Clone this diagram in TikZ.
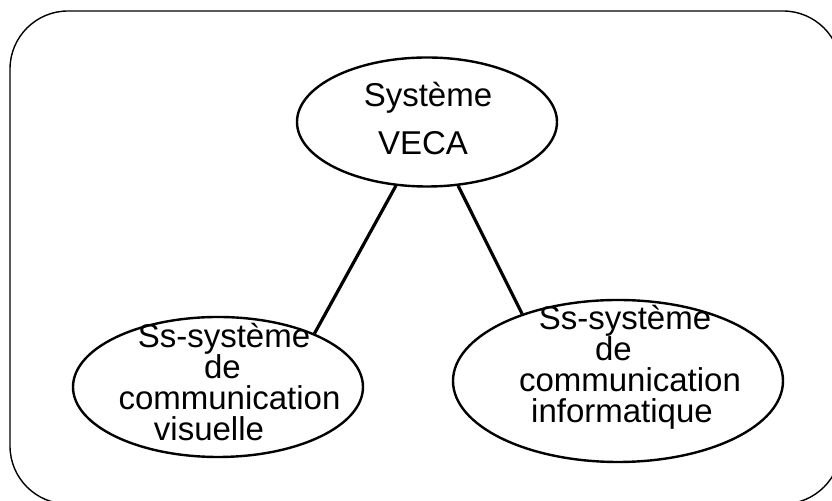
\documentclass[tikz,border=0pt]{standalone}
\usepackage{fontspec}
\setmainfont{Liberation Sans}
\usetikzlibrary{shapes.geometric}
\newcommand{\shiftln}[2]{\hspace*{#1}#2\hspace*{-#1}}

\begin{document}
\begin{tikzpicture}[x=0.5pt, y=-0.5pt,
    bubble/.style={draw, ellipse, line width=1.2pt, inner sep=0pt},
    caption/.style={align=center, inner sep=0pt, font=\fontsize{16.5}{15.5}\selectfont},
    link/.style={line width=1.6pt}]
        \useasboundingbox (0, 0) rectangle (832, 501);
        \clip (0, 0) rectangle (832, 501);
        \draw[line width=0.7pt, rounded corners=29pt] (10, 11) rectangle (841, 504);

        \node[bubble, minimum width=130pt, minimum height=64.5pt] (veca) at (427, 122) {};
        \node[bubble, minimum width=145pt, minimum height=70pt] (visu) at (218, 387) {};
        \node[bubble, minimum width=165pt, minimum height=81pt] (info) at (618, 381) {};

        \node[caption, font=\fontsize{16.5}{24}\selectfont] (vecaT) at (428, 118.5) {Système\\ \shiftln{-2.5pt}{VECA}};
        \node[caption] (visuT) at (224, 382) {Ss-système\\ \shiftln{-1.5pt}{de}\\ \shiftln{5.5pt}{communication}\\ \shiftln{-7.5pt}{visuelle}};
        \node[caption] (infoT) at (625, 367) {Ss-système\\ \shiftln{-11.5pt}{de}\\ \shiftln{5pt}{communication}\\ \shiftln{-1.5pt}{informatique}};

        \draw[link] (veca.-116) -- (visu.29);
        \draw[link] (veca.-64) -- (info.145);
      \end{tikzpicture}
\end{document}
